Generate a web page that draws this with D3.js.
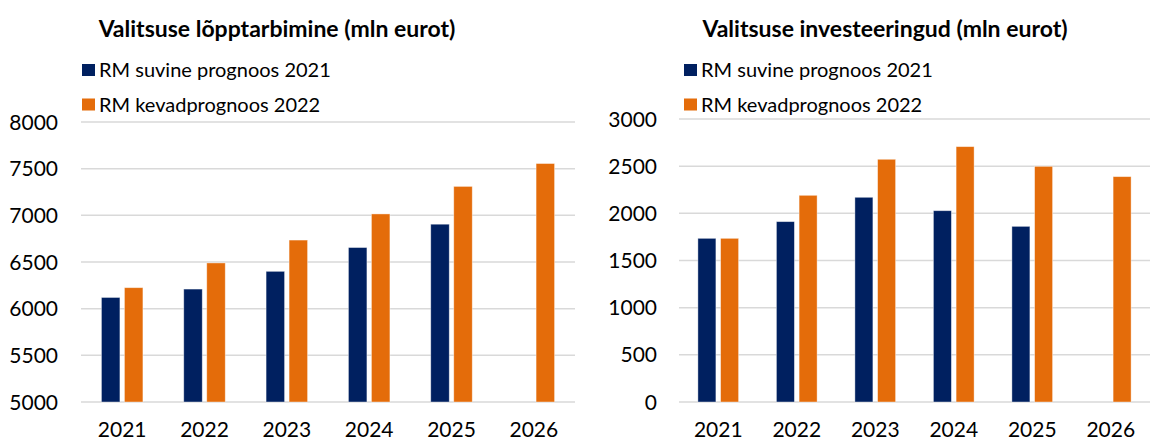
<!DOCTYPE html>
<html>
<head>
<meta charset="utf-8">
<script src="https://cdn.jsdelivr.net/npm/d3@7"></script>
<style>
  body { margin: 0; background: #fff; }
  svg { font-family: Lato, "Open Sans", sans-serif; }
</style>
</head>
<body>
<svg id="chart" width="1153" height="442"></svg>
<script>
// data
let years = ["2021", "2022", "2023", "2024", "2025", "2026"];
let series_names = ["RM suvine prognoos 2021", "RM kevadprognoos 2022"];
let series_colors = ["#002060", "#e46c0a"];

let consumption_2021 = [6120, 6210, 6400, 6655, 6905, null];
let consumption_2022 = [6225, 6490, 6735, 7015, 7310, 7555];
let consumption_ticks = [5000, 5500, 6000, 6500, 7000, 7500, 8000];

let investment_2021 = [1735, 1912, 2170, 2028, 1862, null];
let investment_2022 = [1735, 2191, 2573, 2707, 2498, 2389];
let investment_ticks = [0, 500, 1000, 1500, 2000, 2500, 3000];

let svg = d3.select("#chart");

function drawChart(opts) {
  let g = svg.append("g");

  let x = d3.scaleBand().domain(years).range([opts.left, opts.right]);
  let x1 = d3
    .scaleBand()
    .domain([0, 1])
    .range([0, opts.bar_w * 2 + opts.bar_gap])
    .paddingInner(opts.bar_gap / (opts.bar_w + opts.bar_gap));
  let y = d3
    .scaleLinear()
    .domain(d3.extent(opts.ticks))
    .range([opts.bottom, opts.top]);

  // gridlines
  g.selectAll(".grid")
    .data(opts.ticks)
    .enter()
    .append("line")
    .attr("x1", opts.left)
    .attr("x2", opts.right)
    .attr("y1", (d) => y(d))
    .attr("y2", (d) => y(d))
    .attr("stroke", "#d9d9d9")
    .attr("stroke-width", 1.5);

  // y tick labels
  g.selectAll(".ytick")
    .data(opts.ticks)
    .enter()
    .append("text")
    .attr("x", opts.ylabel_x)
    .attr("y", (d) => y(d))
    .attr("dy", "0.36em")
    .attr("text-anchor", "end")
    .attr("font-size", 21)
    .attr("fill", "#000")
    .text((d) => d);

  // x labels
  g.selectAll(".xtick")
    .data(years)
    .enter()
    .append("text")
    .attr("x", (d) => x(d) + x.bandwidth() / 2)
    .attr("y", 437)
    .attr("text-anchor", "middle")
    .attr("font-size", 21)
    .attr("fill", "#000")
    .text((d) => d);

  // bars
  let offset = (x.bandwidth() - x1.range()[1]) / 2;
  [opts.s1, opts.s2].forEach(function (values, si) {
    g.selectAll(".bar" + si)
      .data(years.map((yr, i) => ({ year: yr, value: values[i] })).filter((d) => d.value != null))
      .enter()
      .append("rect")
      .attr("x", (d) => x(d.year) + offset + x1(si))
      .attr("width", x1.bandwidth())
      .attr("y", (d) => y(d.value))
      .attr("height", (d) => y(opts.ticks[0]) - y(d.value))
      .attr("fill", series_colors[si])
      .attr("stroke", "#ffffff")
      .attr("stroke-opacity", 0.5)
      .attr("stroke-width", 0.8);
  });

  // title
  g.append("text")
    .attr("x", opts.title_x)
    .attr("y", 37)
    .attr("text-anchor", "middle")
    .attr("font-size", 23)
    .attr("font-weight", "bold")
    .attr("fill", "#000")
    .text(opts.title);

  // legend
  let legend = g
    .selectAll(".legend")
    .data(series_names)
    .enter()
    .append("g")
    .attr("transform", (d, i) => "translate(" + opts.legend_x + "," + (70 + i * 34.5) + ")");

  legend
    .append("rect")
    .attr("x", 0)
    .attr("y", -6)
    .attr("width", 13)
    .attr("height", 12)
    .attr("fill", (d, i) => series_colors[i]);

  legend
    .append("text")
    .attr("x", 17)
    .attr("y", 0)
    .attr("dy", "0.36em")
    .attr("font-size", 20)
    .attr("fill", "#000")
    .text((d) => d);
}

drawChart({
  title: "Valitsuse lõpptarbimine (mln eurot)",
  title_x: 277,
  legend_x: 82,
  left: 81,
  right: 575,
  top: 122,
  bottom: 402,
  ylabel_x: 58,
  bar_w: 18.5,
  bar_gap: 4.5,
  ticks: consumption_ticks,
  s1: consumption_2021,
  s2: consumption_2022,
});

drawChart({
  title: "Valitsuse investeeringud (mln eurot)",
  title_x: 885,
  legend_x: 684,
  left: 679,
  right: 1150,
  top: 119,
  bottom: 402,
  ylabel_x: 657,
  bar_w: 18,
  bar_gap: 4.7,
  ticks: investment_ticks,
  s1: investment_2021,
  s2: investment_2022,
});
</script>
</body>
</html>
